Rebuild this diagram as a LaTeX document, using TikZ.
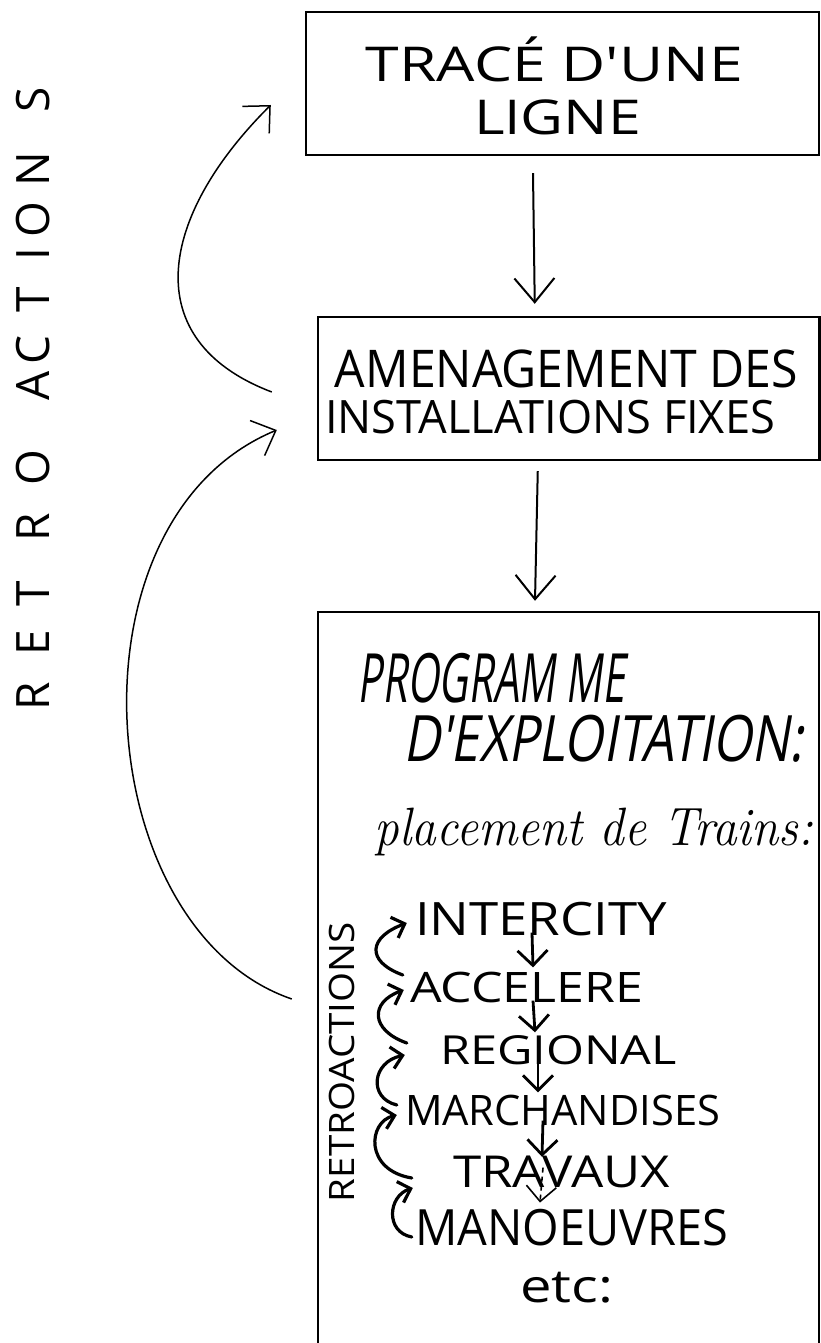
\documentclass[tikz,border=0pt]{standalone}
\usepackage{fontspec}
\usepackage{graphicx}
\usetikzlibrary{arrows.meta}
\newfontfamily\hand{Open Sans}
\newfontfamily\handsl{Open Sans}[FakeSlant=0.22]
% set a text to a given width, keeping its height
\newcommand\fitto[2]{\resizebox{#1pt}{\height}{#2}}
\tikzset{
  box/.style={draw, line width=2.4pt, inner sep=0pt},
  lbl/.style={inner sep=0pt, anchor=base},
  flow/.style={line width=2pt, -{Straight Barb[length=24pt,width=40pt]}},
  backarc/.style={line width=1.5pt, -{Straight Barb[length=20pt,width=38pt]}},
  seqarrow/.style={line width=2.8pt, -{Straight Barb[length=15pt,width=30pt]}},
  fb/.style={line width=3.2pt, line cap=round, -{Straight Barb[length=11pt,width=22pt]}},
  caps/.style={font=\hand\fontsize{#1}{#1}\selectfont},
  slcaps/.style={font=\handsl\fontsize{#1}{#1}\selectfont},
  vletter/.style={font=\hand\fontsize{46}{46}\selectfont, rotate=90, inner sep=0pt}
}
\begin{document}
\begin{tikzpicture}[x=1pt,y=-1pt]
\useasboundingbox (0,0) rectangle (821,1343);
\clip (0,0) rectangle (821,1343);

% the three stages
\node[box, minimum width=513pt, minimum height=143pt] (b1) at (562.5,83.5) {};
\node[box, minimum width=501.5pt, minimum height=143pt] (b2) at (568.75,388.5) {};
\node[box, minimum width=501pt, minimum height=748pt] (b3) at (568.5,986) {};

% stage titles
\node[lbl, caps=48] (t1a) at (554.5,82) {\fitto{377}{TRACÉ D'UNE}};
\node[lbl, caps=48] (t1b) at (557.5,135) {\fitto{167}{LIGNE}};
\node[lbl, caps=52] (t2a) at (566.5,387) {\fitto{463}{AMENAGEMENT DES}};
\node[lbl, caps=46] (t2b) at (550,433) {\fitto{450}{INSTALLATIONS FIXES}};
\node[lbl, slcaps=68] (p1) at (491.5,702) {\fitto{267}{PROGRAM ME}};
\node[lbl, slcaps=64] (p2) at (603,761) {\fitto{400}{D'EXPLOITATION:}};
\node[lbl, font=\itshape\fontsize{54}{54}\selectfont] (p3) at (594,845) {\fitto{438}{placement de Trains:}};

% kinds of trains
\node[lbl, caps=46] (inter) at (541,935) {\fitto{252}{INTERCITY}};
\node[lbl, caps=42] (acc) at (526.5,1002) {\fitto{233}{ACCELERE}};
\node[lbl, caps=40] (reg) at (558.5,1064) {\fitto{237}{REGIONAL}};
\node[lbl, caps=42] (mar) at (562.5,1125) {\fitto{315}{MARCHANDISES}};
\node[lbl, caps=44] (trav) at (561.5,1187) {\fitto{217}{TRAVAUX}};
\node[lbl, caps=50] (man) at (571.5,1245) {\fitto{313}{MANOEUVRES}};
\node[lbl, caps=46] (etc) at (566.5,1302) {\fitto{93}{etc:}};

% vertical labels
\node[caps=35, rotate=90, inner sep=0pt] (sr) at (342,1062) {\fitto{280}{RETROACTIONS}};
\foreach \c/\yy [count=\k] in {R/696,E/643,T/594,R/527,O/468,A/386,C/350,T/300,I/254,O/220,N/169,S/100}
  \node[vletter] (big\k) at (33,\yy) {\c};

% main flow
\draw[flow] ([shift={(-29.5,17)}]b1.south) -- ([shift={(-34,-12)}]b2.north);
\draw[flow] ([shift={(-31,10)}]b2.south) -- ([shift={(-33.5,-10)}]b3.north);

% feedback between stages
\draw[backarc] ([shift={(-45,3.5)}]b2.west) .. controls (135,340) and (160,215) .. ([shift={(-34,21.5)}]b1.west);
\draw[backarc] ([shift={(-25,13)}]b3.west) .. controls (90,930) and (60,520) .. ([shift={(-40,41.5)}]b2.west);

% sequence of trains
\draw[seqarrow] ([shift={(-9,-3)}]inter.south) -- ([shift={(6.5,-4)}]acc.north);
\draw[seqarrow] ([shift={(6.5,-2)}]acc.south) -- ([shift={(-23.5,-2.5)}]reg.north);
\draw[seqarrow] ([shift={(-20.5,-11)}]reg.south) -- ([shift={(-24.5,-2)}]mar.north);
\draw[seqarrow] ([shift={(-19.5,-5)}]mar.south) -- ([shift={(-19.5,1.5)}]trav.north);
\draw[seqarrow, line width=1.6pt, dash pattern=on 5pt off 4pt] ([shift={(-18.5,-20)}]trav.south) -- ([shift={(-31.5,-6)}]man.north);

% feedback between trains
\draw[fb] ([shift={(-7,-27)}]acc.base west) .. controls (365,961) and (369,937) .. ([shift={(-8,-12)}]inter.base west);
\draw[fb] ([shift={(-33,-21)}]reg.base west) .. controls (370,1030) and (370,1002) .. ([shift={(-6,-12)}]acc.base west);
\draw[fb] ([shift={(-8,-20)}]mar.base west) .. controls (368,1098) and (372,1062) .. ([shift={(-35,-9)}]reg.base west);
\draw[fb] ([shift={(-41,-9)}]trav.base west) .. controls (364,1170) and (368,1122) .. ([shift={(-8,-10)}]mar.base west);
\draw[fb] ([shift={(-3,-8)}]man.base west) .. controls (385,1232) and (388,1196) .. ([shift={(-40,1)}]trav.base west);
\end{tikzpicture}
\end{document}
